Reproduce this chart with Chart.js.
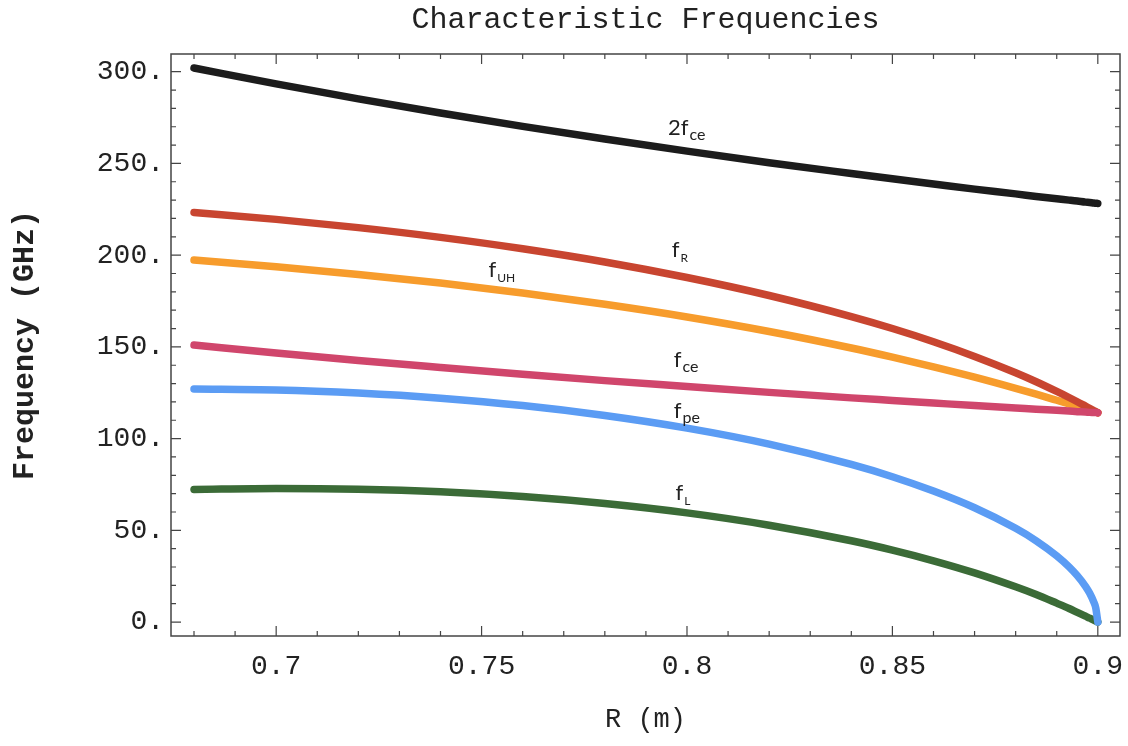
<!DOCTYPE html>
<html>
<head>
<meta charset="utf-8">
<script src="https://cdn.jsdelivr.net/npm/chart.js@4/dist/chart.umd.min.js"></script>
<style>
  html, body { margin: 0; padding: 0; background: #fff; }
  #wrap { width: 1128px; height: 746px; }
</style>
</head>
<body>
<div id="wrap"><canvas id="freqChart"></canvas></div>
<script>
// major radius (m)
var radius = [0.68, 0.70, 0.72, 0.74, 0.76, 0.78, 0.80, 0.82, 0.84, 0.85, 0.86, 0.87,
              0.88, 0.885, 0.89, 0.893, 0.895, 0.897, 0.898, 0.899, 0.8995, 0.9];

// frequencies (GHz)
var f2ce = [302.0, 293.4, 285.2, 277.5, 270.2, 263.3, 256.7, 250.4, 244.5, 241.6, 238.8, 236.0,
            233.4, 232.0, 230.7, 230.0, 229.5, 228.9, 228.7, 228.4, 228.3, 228.2];
var fR   = [223.3, 219.5, 215.0, 209.7, 203.5, 196.3, 187.8, 178.0, 166.5, 160.0, 152.8, 144.8,
            135.9, 131.0, 125.7, 122.4, 120.1, 117.7, 116.5, 115.3, 114.7, 114.1];
var fUH  = [197.3, 193.7, 189.5, 184.8, 179.4, 173.2, 166.3, 158.4, 149.4, 144.4, 139.1, 133.5,
            127.4, 124.2, 120.9, 118.9, 117.5, 116.1, 115.4, 114.7, 114.4, 114.1];
var fce  = [151.0, 146.7, 142.6, 138.8, 135.1, 131.6, 128.4, 125.2, 122.2, 120.8, 119.4, 118.0,
            116.7, 116.0, 115.4, 115.0, 114.7, 114.5, 114.3, 114.2, 114.2, 114.1];
var fpe  = [127.0, 126.5, 124.8, 122.0, 118.0, 112.6, 105.7, 97.0, 85.9, 79.2, 71.4, 62.3,
            51.1, 44.3, 36.1, 30.1, 25.3, 19.5, 15.8, 11.0, 7.7, 0.0];
var fL   = [72.3, 72.8, 72.4, 71.0, 68.4, 64.6, 59.5, 52.8, 44.3, 39.2, 33.4, 26.8,
            19.2, 15.0, 10.3, 7.4, 5.3, 3.2, 2.1, 1.1, 0.5, 0.0];

var xTicks = [0.7, 0.75, 0.8, 0.85, 0.9];
var yTicks = [0, 50, 100, 150, 200, 250, 300];

var MONO = "'Liberation Mono', 'Courier New', monospace";
var SANS = "Lato, 'Open Sans', sans-serif";

function pts(ys) {
  return radius.map(function (r, i) { return { x: r, y: ys[i] }; });
}

function series(data, color) {
  return {
    data: pts(data),
    borderColor: color,
    borderWidth: 7.5,
    borderCapStyle: 'round',
    borderJoinStyle: 'round',
    pointRadius: 0,
    cubicInterpolationMode: 'monotone',
    fill: false
  };
}

// curve names, placed in data coordinates
var curveLabels = [
  { main: '2f', sub: 'ce', r: 0.7954, f: 265.5, caps: false },
  { main: 'f', sub: 'R', r: 0.7963, f: 199.0, caps: true },
  { main: 'f', sub: 'UH', r: 0.7517, f: 188.0, caps: true },
  { main: 'f', sub: 'ce', r: 0.7968, f: 139.0, caps: false },
  { main: 'f', sub: 'pe', r: 0.7968, f: 111.0, caps: false },
  { main: 'f', sub: 'L', r: 0.7972, f: 66.5, caps: true }
];

// Mathematica-style box with inward ticks on all sides, plus the curve names
var framePlugin = {
  id: 'frame',
  afterDatasetsDraw: function (chart) {
    var ctx = chart.ctx, a = chart.chartArea;
    var xs = chart.scales.x, ys = chart.scales.y;
    ctx.save();
    ctx.strokeStyle = '#444';
    ctx.lineWidth = 1.5;
    ctx.strokeRect(a.left, a.top, a.right - a.left, a.bottom - a.top);
    ctx.lineWidth = 1.2;
    ctx.beginPath();
    for (var i = 68; i <= 90; i++) {
      var px = xs.getPixelForValue(i / 100);
      var len = i % 5 === 0 ? 10 : 5;
      ctx.moveTo(px, a.bottom); ctx.lineTo(px, a.bottom - len);
      ctx.moveTo(px, a.top); ctx.lineTo(px, a.top + len);
    }
    for (var j = 0; j <= 30; j++) {
      var py = ys.getPixelForValue(j * 10);
      var ln = j % 5 === 0 ? 10 : 5;
      ctx.moveTo(a.left, py); ctx.lineTo(a.left + ln, py);
      ctx.moveTo(a.right, py); ctx.lineTo(a.right - ln, py);
    }
    ctx.stroke();

    ctx.fillStyle = '#222';
    ctx.textBaseline = 'alphabetic';
    ctx.textAlign = 'left';
    curveLabels.forEach(function (lb) {
      var x = xs.getPixelForValue(lb.r);
      var y = ys.getPixelForValue(lb.f);
      ctx.font = '22px ' + SANS;
      ctx.fillText(lb.main, x, y);
      var w = ctx.measureText(lb.main).width;
      ctx.font = (lb.caps ? '12px ' : '16px ') + SANS;
      ctx.fillText(lb.sub, x + w + 1, y + 5);
    });
    ctx.restore();
  }
};

new Chart(document.getElementById('freqChart'), {
  type: 'line',
  data: {
    datasets: [
      series(fce, '#d0466c'),
      series(fpe, '#5b9cf4'),
      series(fL, '#3b6b37'),
      series(fR, '#c84530'),
      series(fUH, '#f79c2c'),
      series(f2ce, '#1c1c1c')
    ]
  },
  options: {
    responsive: true,
    maintainAspectRatio: false,
    animation: false,
    layout: { padding: { left: 0, right: 8, top: 0, bottom: 0 } },
    plugins: {
      legend: { display: false },
      tooltip: { enabled: false },
      title: {
        display: true,
        fullSize: false,
        text: 'Characteristic Frequencies',
        color: '#222',
        font: { family: MONO, size: 30, weight: 'normal' },
        padding: { top: 2, bottom: 16 }
      }
    },
    scales: {
      x: {
        type: 'linear',
        min: 0.6744,
        max: 0.9054,
        grid: { display: false, drawTicks: false },
        border: { display: false },
        ticks: {
          color: '#222',
          font: { family: MONO, size: 28 },
          padding: 14,
          maxRotation: 0,
          autoSkip: false,
          callback: function (v) { return String(v); }
        },
        afterBuildTicks: function (scale) {
          scale.ticks = xTicks.map(function (v) { return { value: v }; });
        },
        afterFit: function (scale) {
          scale.height = 110;
          scale.paddingLeft = 0;
          scale.paddingRight = 0;
        },
        title: {
          display: true,
          text: 'R (m)',
          color: '#222',
          font: { family: MONO, size: 27 },
          padding: { top: 0, bottom: 10 }
        }
      },
      y: {
        type: 'linear',
        min: -7.6,
        max: 309.65,
        grid: { display: false, drawTicks: false },
        border: { display: false },
        ticks: {
          color: '#222',
          font: { family: MONO, size: 28 },
          padding: 7,
          autoSkip: false,
          callback: function (v) { return v + '.'; }
        },
        afterBuildTicks: function (scale) {
          scale.ticks = yTicks.map(function (v) { return { value: v }; });
        },
        afterFit: function (scale) {
          scale.width = 171;
          scale.paddingTop = 0;
          scale.paddingBottom = 0;
        },
        title: {
          display: true,
          text: 'Frequency (GHz)',
          color: '#222',
          font: { family: MONO, size: 30, weight: 'bold' },
          padding: { top: 7, bottom: 0 }
        }
      }
    }
  },
  plugins: [framePlugin]
});
</script>
</body>
</html>
